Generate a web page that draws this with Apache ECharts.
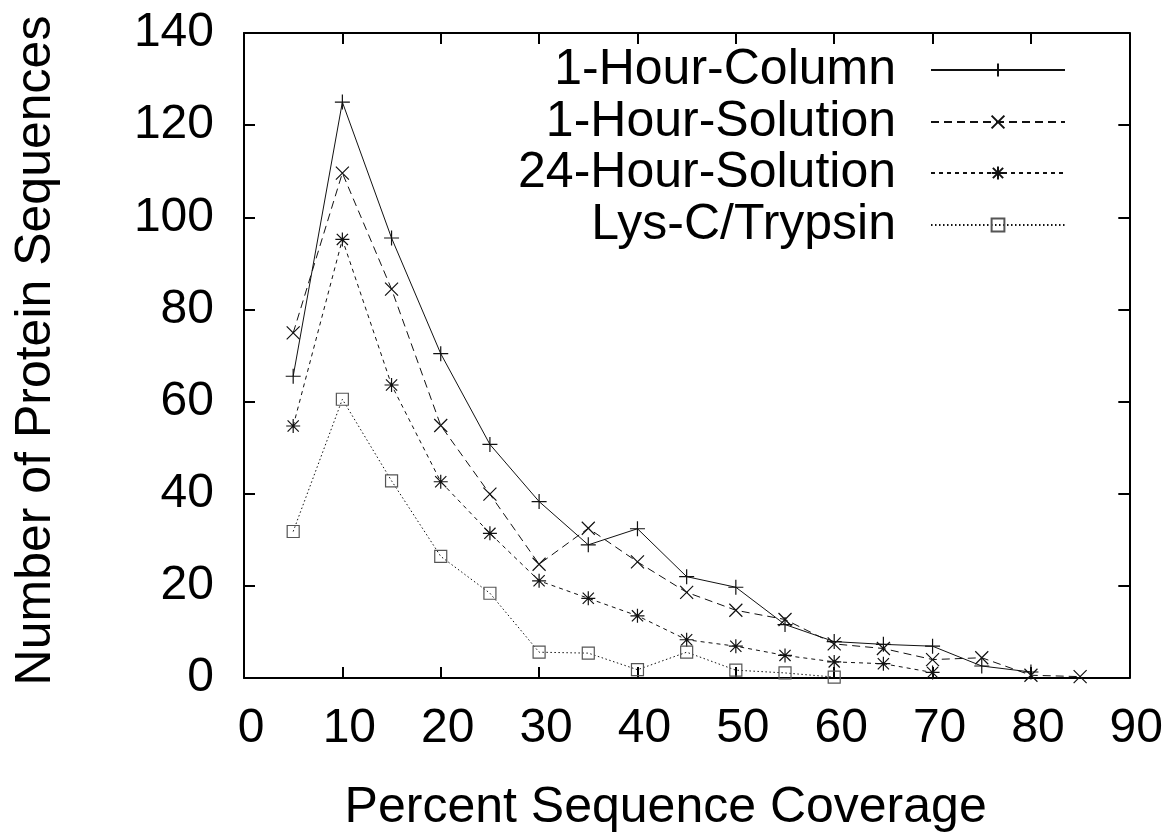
<!DOCTYPE html>
<html>
<head>
<meta charset="utf-8">
<script src="https://cdn.jsdelivr.net/npm/echarts@6/dist/echarts.min.js"></script>
<style>
html,body{margin:0;padding:0;background:#fff;}
#chart{width:1166px;height:838px;}
</style>
</head>
<body>
<div id="chart"></div>
<script>
// Data
const coverage = [5, 10, 15, 20, 25, 30, 35, 40, 45, 50, 55, 60, 65, 70, 75, 80, 85];
const seriesNames = ['1-Hour-Column', '1-Hour-Solution', '24-Hour-Solution', 'Lys-C/Trypsin'];
const hourColumn   = [65.5, 125, 95.5, 70.4, 50.7, 38.3, 28.9, 32.4, 22.0, 19.7, 11.6, 7.9, 7.3, 6.9, 2.6, 1.3];
const hourSolution = [74.9, 109.6, 84.4, 54.8, 39.9, 24.7, 32.5, 25.2, 18.6, 14.7, 12.7, 7.4, 6.4, 4.0, 4.4, 0.6, 0.3];
const daySolution  = [54.7, 95.2, 63.6, 42.6, 31.4, 21.1, 17.3, 13.5, 8.3, 6.9, 4.9, 3.5, 3.1, 1.2];
const lysTrypsin   = [31.8, 60.5, 42.8, 26.4, 18.4, 5.6, 5.4, 1.8, 5.6, 1.7, 1.1, 0.2];
const xTicks = [0, 10, 20, 30, 40, 50, 60, 70, 80, 90];
const yTicks = [0, 20, 40, 60, 80, 100, 120, 140];

const FONT = "'Liberation Sans', Arial, Helvetica, sans-serif";
const INK = '#111';

function pairs(vals) { return vals.map((v, i) => [coverage[i], v]); }

const symPlus = 'path://M0 5L10 5M5 0L5 10';
const symX = 'path://M0 0L10 10M0 10L10 0';
const symStar = 'path://M0 5L10 5M5 0L5 10M1 1L9 9M1 9L9 1';
const symSquare = 'path://M0 0L10 0L10 10L0 10Z';

const styles = [
  {sym: symPlus, size: 15, dash: 'solid', stroke: INK},
  {sym: symX, size: 13, dash: [8, 5], stroke: INK},
  {sym: symStar, size: 14, dash: [4, 4], stroke: INK},
  {sym: symSquare, size: 12, dash: [1.5, 2.5], stroke: '#555'}
];
const allVals = [hourColumn, hourSolution, daySolution, lysTrypsin];

const series = seriesNames.map((name, k) => ({
  name: name,
  type: 'line',
  data: pairs(allVals[k]),
  xAxisIndex: 0,
  yAxisIndex: 0,
  symbol: styles[k].sym,
  symbolSize: styles[k].size,
  showAllSymbol: true,
  animation: false,
  lineStyle: {color: INK, width: 1, type: styles[k].dash},
  itemStyle: {color: 'rgba(0,0,0,0)', borderColor: styles[k].stroke, borderWidth: 1.2},
  emphasis: {disabled: true},
  z: 3 + k
}));

const legendTops = [40, 92, 143, 195];
const legends = seriesNames.map((name, k) => ({
  data: [name],
  orient: 'vertical',
  right: 95,
  top: legendTops[k],
  align: 'right',
  itemWidth: 134,
  itemHeight: 16,
  selectedMode: false,
  textStyle: {fontFamily: FONT, fontSize: 50, color: '#000', lineHeight: 50, padding: [0, 30, 0, 0]}
}));

function axisLine() { return {show: true, onZero: false, lineStyle: {color: '#000', width: 2}}; }
function axisTick() { return {show: true, inside: true, length: 11, lineStyle: {color: '#000', width: 2}}; }

const option = {
  backgroundColor: '#fff',
  animation: false,
  legend: legends,
  grid: {left: 244, right: 36, top: 33, bottom: 158, containLabel: false},
  xAxis: [
    {
      type: 'value', min: xTicks[0], max: xTicks[xTicks.length - 1], interval: 10,
      position: 'bottom',
      name: 'Percent Sequence Coverage', nameLocation: 'middle', nameGap: 105,
      nameTextStyle: {fontFamily: FONT, fontSize: 50, color: '#000', padding: [0, 42, 0, 0]},
      axisLine: axisLine(), axisTick: axisTick(),
      axisLabel: {fontFamily: FONT, fontSize: 48, color: '#000', margin: 27, padding: [0, 0, 0, 14]},
      splitLine: {show: false}
    },
    {
      type: 'value', min: xTicks[0], max: xTicks[xTicks.length - 1], interval: 10,
      position: 'top',
      axisLine: axisLine(), axisTick: axisTick(),
      axisLabel: {show: false}, splitLine: {show: false}
    }
  ],
  yAxis: [
    {
      type: 'value', min: yTicks[0], max: yTicks[yTicks.length - 1], interval: 20,
      position: 'left',
      name: 'Number of Protein Sequences', nameLocation: 'middle', nameGap: 183,
      nameTextStyle: {fontFamily: FONT, fontSize: 50, color: '#000', padding: [0, 0, 0, 10]},
      axisLine: axisLine(), axisTick: axisTick(),
      axisLabel: {fontFamily: FONT, fontSize: 48, color: '#000', margin: 30},
      splitLine: {show: false}
    },
    {
      type: 'value', min: yTicks[0], max: yTicks[yTicks.length - 1], interval: 20,
      position: 'right',
      axisLine: axisLine(), axisTick: axisTick(),
      axisLabel: {show: false}, splitLine: {show: false}
    }
  ],
  series: series
};

const chart = echarts.init(document.getElementById('chart'), null, {renderer: 'canvas'});
chart.setOption(option);
</script>
</body>
</html>
